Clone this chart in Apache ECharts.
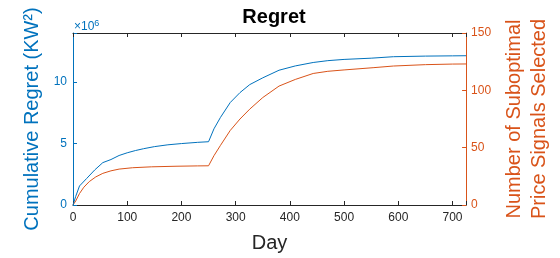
<!DOCTYPE html>
<html><head><meta charset="utf-8">
<script src="https://cdn.jsdelivr.net/npm/echarts@6/dist/echarts.min.js"></script>
<style>html,body{margin:0;padding:0;background:#fff}#c{width:560px;height:258px}</style>
</head><body><div id="c"></div>
<script>
// Cumulative regret (×10^6 KW²)
const regretDays = [0,5,12,25,40,55,70,85,100,115,130,150,175,200,230,250,251,260,272,290,308,326,350,380,410,443,470,500,550,591,650,700,725];
const regretVals = [0,0.7,1.55,2.15,2.85,3.45,3.7,4.03,4.25,4.43,4.58,4.75,4.9,5.0,5.1,5.15,5.2,6.2,7.13,8.34,9.15,9.8,10.35,10.97,11.32,11.6,11.75,11.85,11.95,12.07,12.12,12.14,12.15];
// Number of suboptimal price signals selected
const subDays = [0,5,12,20,30,42,55,70,85,110,145,190,230,250,260,272,290,308,326,350,380,410,443,470,500,555,591,650,700,725];
const subVals = [0,3.5,10,15.5,20.4,24.5,27.6,29.8,31.3,32.5,33.3,33.8,34.1,34.2,43,52,65,75,83.6,93.7,103.7,109.5,114.7,116.6,117.8,119.8,121.2,122.4,122.9,123];
const xTicks = [0,100,200,300,400,500,600,700];
const leftTicks = [0,5,10];
const rightTicks = [0,50,100,150];

const BLUE = '#0072BD', ORANGE = '#D95319', DARK = '#262626';
const FONT = 'Liberation Sans';
const chart = echarts.init(document.getElementById('c'));
const pairs = (a, b) => a.map((d, i) => [d, b[i]]);
chart.setOption({
  animation: false,
  backgroundColor: '#fff',
  textStyle: {fontFamily: FONT},
  grid: {left: 73, right: 85, top: 33, bottom: 51, containLabel: false},
  xAxis: [{
    type: 'value', min: 0, max: 725, interval: 100, position: 'bottom',
    name: 'Day', nameLocation: 'middle', nameGap: 28,
    nameTextStyle: {fontSize: 20, color: DARK, fontFamily: FONT},
    axisLine: {show: true, onZero: false, lineStyle: {color: DARK, width: 1}},
    axisTick: {inside: true, length: 4, lineStyle: {color: DARK}},
    axisLabel: {color: DARK, fontSize: 12, margin: 7, fontFamily: FONT,
      formatter: v => xTicks.includes(v) ? String(v) : ''},
    splitLine: {show: false}
  }, {
    type: 'value', min: 0, max: 725, interval: 100, position: 'top',
    axisLine: {show: true, onZero: false, lineStyle: {color: DARK, width: 1}},
    axisTick: {inside: true, length: 4, lineStyle: {color: DARK}},
    axisLabel: {show: false}, splitLine: {show: false}
  }],
  yAxis: [{
    type: 'value', min: 0, max: 14, interval: 5, position: 'left',
    name: 'Cumulative Regret (KW²)', nameLocation: 'middle', nameGap: 27, nameRotate: 90,
    nameTextStyle: {fontSize: 20, color: BLUE, fontFamily: FONT},
    axisLine: {show: true, onZero: false, lineStyle: {color: BLUE, width: 1}},
    axisTick: {inside: true, length: 4, lineStyle: {color: BLUE}},
    axisLabel: {color: BLUE, fontSize: 12, margin: 6, fontFamily: FONT,
      formatter: v => leftTicks.includes(v) ? String(v) : ''},
    splitLine: {show: false}
  }, {
    type: 'value', min: 0, max: 150, interval: 50, position: 'right',
    name: 'Number of Suboptimal\nPrice Signals Selected', nameLocation: 'middle', nameGap: 34, nameRotate: 90,
    nameTextStyle: {fontSize: 20, lineHeight: 25, color: ORANGE, fontFamily: FONT},
    axisLine: {show: true, onZero: false, lineStyle: {color: ORANGE, width: 1}},
    axisTick: {inside: true, length: 4, lineStyle: {color: ORANGE}},
    axisLabel: {color: ORANGE, fontSize: 12, margin: 5, fontFamily: FONT,
      formatter: v => rightTicks.includes(v) ? String(v) : ''},
    splitLine: {show: false}
  }],
  graphic: [{
    type: 'text', x: 274, y: 17,
    style: {text: 'Regret', fill: '#000', fontFamily: FONT, fontWeight: 'bold', fontSize: 20,
      align: 'center', verticalAlign: 'middle'}
  }, {
    type: 'text', left: 74, top: 19,
    style: {
      text: '{a|×10}{b|6}',
      rich: {
        a: {fontSize: 12, fill: BLUE, fontFamily: FONT, lineHeight: 14, verticalAlign: 'bottom'},
        b: {fontSize: 9, fill: BLUE, fontFamily: FONT, lineHeight: 14, verticalAlign: 'top'}
      }
    }
  }],
  series: [{
    type: 'line', xAxisIndex: 0, yAxisIndex: 0, data: pairs(regretDays, regretVals),
    showSymbol: false, lineStyle: {color: BLUE, width: 1}, itemStyle: {color: BLUE}, z: 3
  }, {
    type: 'line', xAxisIndex: 0, yAxisIndex: 1, data: pairs(subDays, subVals),
    showSymbol: false, lineStyle: {color: ORANGE, width: 1}, itemStyle: {color: ORANGE}, z: 2
  }]
});
</script></body></html>
